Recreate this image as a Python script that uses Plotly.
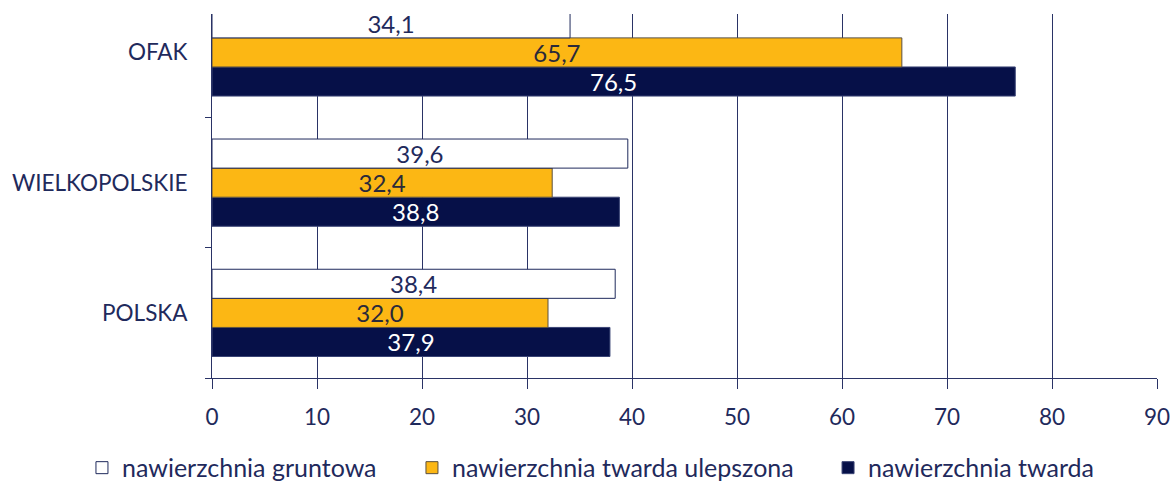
import plotly.graph_objects as go

categories = ["OFAK", "WIELKOPOLSKIE", "POLSKA"]
gruntowa = [34.1, 39.6, 38.4]
twarda_ulepszona = [65.7, 32.4, 32.0]
twarda = [76.5, 38.8, 37.9]

series_names = ["nawierzchnia gruntowa", "nawierzchnia twarda ulepszona", "nawierzchnia twarda"]
x_ticks = [0, 10, 20, 30, 40, 50, 60, 70, 80, 90]

NAVY = "#061048"
ORANGE = "#FCB714"
TXT = "#1F2A5C"
GRID = "#2A3366"
FONT = "Lato"

def fmt(v):
    return f"{v:.1f}".replace(".", ",")

fig = go.Figure()
# plotly draws traces bottom-to-top within a group -> add navy first
fig.add_trace(go.Bar(
    y=categories, x=twarda, orientation="h", name=series_names[2],
    marker=dict(color=NAVY, line=dict(color="#3A4475", width=1)),
    text=[fmt(v) for v in twarda], textposition="inside", insidetextanchor="middle",
    textfont=dict(color="white", size=24, family=FONT), constraintext="none",
    legend="legend3",
))
fig.add_trace(go.Bar(
    y=categories, x=twarda_ulepszona, orientation="h", name=series_names[1],
    marker=dict(color=ORANGE, line=dict(color="#5A5040", width=1)),
    text=[fmt(v) for v in twarda_ulepszona], textposition="inside", insidetextanchor="middle",
    textfont=dict(color="#2A2A3A", size=24, family=FONT), constraintext="none",
    legend="legend2",
))
fig.add_trace(go.Bar(
    y=categories, x=gruntowa, orientation="h", name=series_names[0],
    marker=dict(color="white", line=dict(color=TXT, width=1)),
    text=[fmt(v) for v in gruntowa], textposition="inside", insidetextanchor="middle",
    textfont=dict(color=TXT, size=24, family=FONT), constraintext="none",
    legend="legend",
))

leg_common = dict(orientation="h", yanchor="middle", y=-0.247, xanchor="left",
                  font=dict(size=25, color=TXT, family=FONT), bgcolor="rgba(0,0,0,0)")

fig.update_layout(
    width=1172, height=482,
    margin=dict(l=212, r=15, t=14, b=104, autoexpand=False),
    paper_bgcolor="white", plot_bgcolor="white",
    barmode="group", bargap=0.33, bargroupgap=0,
    font=dict(family=FONT, color=TXT, size=20),
    showlegend=True,
    legend=dict(x=-0.1376, **leg_common),
    legend2=dict(x=0.2116, **leg_common),
    legend3=dict(x=0.6519, **leg_common),
    xaxis=dict(range=[0, 90], tickvals=x_ticks, ticktext=[str(t) for t in x_ticks],
               showgrid=True, gridcolor=GRID, gridwidth=1,
               showline=True, linecolor=GRID, linewidth=1,
               ticks="outside", ticklen=10, tickcolor=GRID, ticklabelstandoff=9,
               tickfont=dict(size=22.5, color=TXT), zeroline=False, automargin=False),
    yaxis=dict(categoryorder="array", categoryarray=categories[::-1],
               range=[-0.5, 2.295], tickson="boundaries",
               showgrid=False, showline=True, linecolor=GRID, linewidth=1,
               ticks="outside", ticklen=6, tickcolor=GRID, ticklabelstandoff=19,
               tickfont=dict(size=22.5, color=TXT), automargin=False),
)

fig.write_html(
    "out.html",
    config={"displayModeBar": False},
    post_script="document.body.style.margin='0';document.body.style.overflow='hidden';",
)
